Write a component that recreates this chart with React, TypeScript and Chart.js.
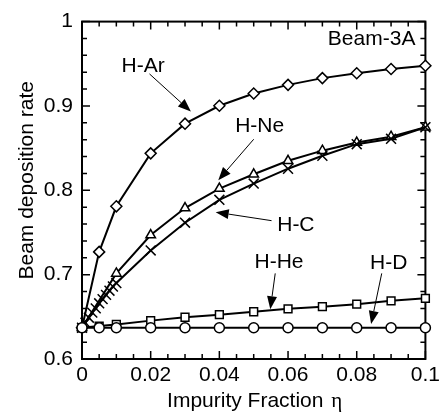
import { useEffect, useRef } from "react";
import { Chart, registerables } from "chart.js";

Chart.register(...registerables);

// ---- data ----
const xMain = [0, 0.005, 0.01, 0.02, 0.03, 0.04, 0.05, 0.06, 0.07, 0.08, 0.09, 0.1];
const xNe = [0, 0.01, 0.02, 0.03, 0.04, 0.05, 0.06, 0.07, 0.08, 0.09, 0.1];
const xC = [0, 0.001, 0.002, 0.003, 0.004, 0.005, 0.006, 0.007, 0.008, 0.009, 0.01, 0.02, 0.03, 0.04, 0.05, 0.06, 0.07, 0.08, 0.09, 0.1];

const yD = [0.637, 0.637, 0.637, 0.637, 0.637, 0.637, 0.637, 0.637, 0.637, 0.637, 0.637, 0.637];
const yHe = [0.637, 0.639, 0.641, 0.6455, 0.6495, 0.6525, 0.656, 0.6595, 0.662, 0.665, 0.669, 0.672];
const yNe = [0.637, 0.7015, 0.747, 0.779, 0.802, 0.819, 0.835, 0.847, 0.8566, 0.8636, 0.8748];
const yC = [0.637, 0.643, 0.649, 0.655, 0.66, 0.666, 0.671, 0.676, 0.681, 0.686, 0.69, 0.7287, 0.7616, 0.7887, 0.808, 0.8256, 0.841, 0.8547, 0.861, 0.8748];
const yAr = [0.637, 0.727, 0.781, 0.8438, 0.879, 0.9002, 0.9147, 0.925, 0.933, 0.9388, 0.9438, 0.9477];

const xTickValues = [0, 0.02, 0.04, 0.06, 0.08, 0.1];
const xTickLabels = ["0", "0.02", "0.04", "0.06", "0.08", "0.1"];
const yTickValues = [0.6, 0.7, 0.8, 0.9, 1];
const yTickLabels = ["0.6", "0.7", "0.8", "0.9", "1"];
const xMinorStep = 0.005;
const yMinorStep = 0.02;

const xTitle = "Impurity Fraction";
const xTitleSymbol = "η";
const yTitle = "Beam deposition rate";
const caseLabel = "Beam-3A";

// annotation labels: text position and arrow (from -> tip), in data coordinates
const annLabels = ["H-Ar", "H-Ne", "H-C", "H-He", "H-D"];
const annText = [
  [0.01778, 0.9494],
  [0.05173, 0.8779],
  [0.06228, 0.7605],
  [0.05737, 0.7169],
  [0.0893, 0.7151],
];
const annFrom = [
  [0.01965, 0.938],
  [0.05, 0.8605],
  [0.0552, 0.764],
  [0.05627, 0.7015],
  [0.08728, 0.7015],
];
const annTip = [
  [0.0317, 0.8934],
  [0.03968, 0.812],
  [0.03893, 0.7741],
  [0.05483, 0.659],
  [0.08419, 0.6415],
];

const FONT = '"Liberation Sans", Arial, sans-serif';
const FS = 21;

function pts(xs: number[], ys: number[]) {
  return xs.map((x, i) => ({ x, y: ys[i] }));
}

const decorPlugin = {
  id: "decor",
  beforeDatasetsDraw(chart: any) {
    const { ctx, chartArea: a, scales } = chart;
    const xs = scales.x;
    const ys = scales.y;
    ctx.save();
    ctx.strokeStyle = "#000";
    ctx.lineWidth = 2;
    ctx.strokeRect(a.left, a.top, a.right - a.left, a.bottom - a.top);
    ctx.lineWidth = 1.5;
    const nx = Math.round((xs.max - xs.min) / xMinorStep);
    for (let i = 0; i <= nx; i++) {
      const v = xs.min + i * xMinorStep;
      const major = xTickValues.some((t) => Math.abs(t - v) < 1e-9);
      const len = major ? 8 : 5;
      const px = xs.getPixelForValue(v);
      ctx.beginPath();
      ctx.moveTo(px, a.bottom);
      ctx.lineTo(px, a.bottom - len);
      ctx.moveTo(px, a.top);
      ctx.lineTo(px, a.top + len);
      ctx.stroke();
    }
    const ny = Math.round((ys.max - ys.min) / yMinorStep);
    for (let i = 0; i <= ny; i++) {
      const v = ys.min + i * yMinorStep;
      const major = yTickValues.some((t) => Math.abs(t - v) < 1e-9);
      const len = major ? 8 : 5;
      const py = ys.getPixelForValue(v);
      ctx.beginPath();
      ctx.moveTo(a.left, py);
      ctx.lineTo(a.left + len, py);
      ctx.moveTo(a.right, py);
      ctx.lineTo(a.right - len, py);
      ctx.stroke();
    }
    ctx.restore();
  },
  afterDraw(chart: any) {
    const { ctx, chartArea: a, scales } = chart;
    const xs = scales.x;
    const ys = scales.y;
    ctx.save();
    ctx.fillStyle = "#000";
    ctx.strokeStyle = "#000";
    ctx.font = `${FS}px ${FONT}`;
    const w1 = ctx.measureText(xTitle + " ").width;
    ctx.font = `${FS}px "Liberation Serif", serif`;
    const w2 = ctx.measureText(xTitleSymbol).width;
    const cx = (a.left + a.right) / 2;
    const startX = cx - (w1 + w2) / 2;
    ctx.textBaseline = "alphabetic";
    ctx.textAlign = "left";
    ctx.font = `${FS}px ${FONT}`;
    ctx.fillText(xTitle + " ", startX, a.bottom + 48);
    ctx.font = `${FS}px "Liberation Serif", serif`;
    ctx.fillText(xTitleSymbol, startX + w1 + 2, a.bottom + 48);

    ctx.font = `${FS}px ${FONT}`;
    ctx.save();
    ctx.translate(33, (a.top + a.bottom) / 2 - 10);
    ctx.rotate(-Math.PI / 2);
    ctx.textAlign = "center";
    ctx.fillText(yTitle, 0, 0);
    ctx.restore();

    ctx.textAlign = "right";
    ctx.fillText(caseLabel, a.right - 10, a.top + 23);

    ctx.textAlign = "center";
    annLabels.forEach((lab, i) => {
      const tx = xs.getPixelForValue(annText[i][0]);
      const ty = ys.getPixelForValue(annText[i][1]);
      ctx.fillText(lab, tx, ty + 7.5);
      const fx = xs.getPixelForValue(annFrom[i][0]);
      const fy = ys.getPixelForValue(annFrom[i][1]);
      const px = xs.getPixelForValue(annTip[i][0]);
      const py = ys.getPixelForValue(annTip[i][1]);
      const ang = Math.atan2(py - fy, px - fx);
      const hl = 13;
      const hw = 5;
      const bx = px - hl * Math.cos(ang);
      const by = py - hl * Math.sin(ang);
      ctx.lineWidth = 1;
      ctx.beginPath();
      ctx.moveTo(fx, fy);
      ctx.lineTo(bx, by);
      ctx.stroke();
      ctx.beginPath();
      ctx.moveTo(px, py);
      ctx.lineTo(bx + hw * Math.sin(ang), by - hw * Math.cos(ang));
      ctx.lineTo(bx - hw * Math.sin(ang), by + hw * Math.cos(ang));
      ctx.closePath();
      ctx.fill();
    });
    ctx.restore();
  },
};

function ds(label: string, data: any[], style: string, radius: number) {
  return {
    label,
    data,
    showLine: true,
    borderColor: "#000",
    borderWidth: 2,
    pointStyle: style,
    pointRadius: radius,
    pointBackgroundColor: "#fff",
    pointBorderColor: "#000",
    pointBorderWidth: 1.5,
    clip: false,
    tension: 0,
  };
}

export default function App() {
  const ref = useRef<HTMLCanvasElement>(null);
  useEffect(() => {
    if (!ref.current) return;
    const tickFont = { family: FONT, size: FS };
    const chart = new Chart(ref.current, {
      type: "scatter",
      data: {
        datasets: [
          ds("H-D", pts(xMain, yD), "circle", 5),
          ds("H-He", pts(xMain, yHe), "rect", 5.5),
          ds("H-C", pts(xC, yC), "crossRot", 7),
          ds("H-Ne", pts(xNe, yNe), "triangle", 5.5),
          ds("H-Ar", pts(xMain, yAr), "rectRot", 5.5),
        ] as any,
      },
      options: {
        animation: false,
        responsive: false,
        devicePixelRatio: 1,
        layout: { padding: { left: 0, top: 15, right: 16, bottom: 0 } },
        plugins: { legend: { display: false }, tooltip: { enabled: false } },
        scales: {
          x: {
            type: "linear",
            min: 0,
            max: 0.1,
            afterBuildTicks: (s: any) => {
              s.ticks = xTickValues.map((v) => ({ value: v }));
            },
            afterFit: (s: any) => {
              s.height = 53;
            },
            ticks: {
              callback: (_v: any, i: number) => xTickLabels[i],
              font: tickFont,
              color: "#000",
              padding: 4,
              maxRotation: 0,
              autoSkip: false,
            },
            grid: { display: false, drawTicks: false },
            border: { display: false },
          },
          y: {
            type: "linear",
            min: 0.6,
            max: 1,
            afterBuildTicks: (s: any) => {
              s.ticks = yTickValues.map((v) => ({ value: v }));
            },
            afterFit: (s: any) => {
              s.width = 82;
            },
            ticks: {
              callback: (_v: any, i: number) => yTickLabels[i],
              font: tickFont,
              color: "#000",
              padding: 9,
              autoSkip: false,
            },
            grid: { display: false, drawTicks: false },
            border: { display: false },
          },
        },
      } as any,
      plugins: [decorPlugin],
    });
    return () => chart.destroy();
  }, []);
  return (
    <div style={{ position: "absolute", left: 0, top: 0, width: 444, height: 412, background: "#fff" }}>
      <canvas ref={ref} width={444} height={412} style={{ display: "block" }} />
    </div>
  );
}
